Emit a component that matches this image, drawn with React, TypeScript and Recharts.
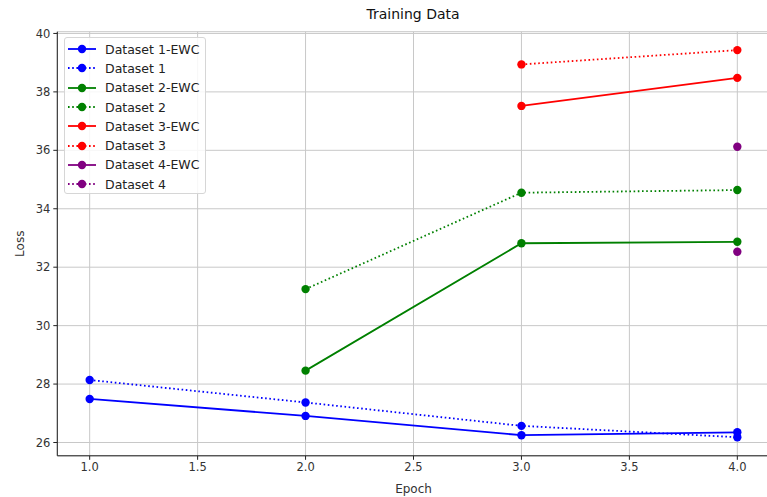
import React from 'react';
import { LineChart, Line, XAxis, YAxis, CartesianGrid } from 'recharts';

const xTicks = [1.0, 1.5, 2.0, 2.5, 3.0, 3.5, 4.0];
const yTicks = [26, 28, 30, 32, 34, 36, 38, 40];

const ds1EwcEpochs = [1, 2, 3, 4];
const ds1EwcLoss = [27.49, 26.91, 26.25, 26.35];
const ds1Epochs = [1, 2, 3, 4];
const ds1Loss = [28.14, 27.37, 26.57, 26.18];
const ds2EwcEpochs = [2, 3, 4];
const ds2EwcLoss = [28.46, 32.82, 32.87];
const ds2Epochs = [2, 3, 4];
const ds2Loss = [31.25, 34.55, 34.64];
const ds3EwcEpochs = [3, 4];
const ds3EwcLoss = [37.52, 38.48];
const ds3Epochs = [3, 4];
const ds3Loss = [38.94, 39.43];
const ds4EwcEpochs = [4];
const ds4EwcLoss = [32.53];
const ds4Epochs = [4];
const ds4Loss = [36.12];

const toPts = (xs: number[], ys: number[]) => xs.map((x, i) => ({ x, y: ys[i] }));

const series = [
  { name: 'Dataset 1-EWC', color: '#0000ff', dotted: false, data: toPts(ds1EwcEpochs, ds1EwcLoss) },
  { name: 'Dataset 1', color: '#0000ff', dotted: true, data: toPts(ds1Epochs, ds1Loss) },
  { name: 'Dataset 2-EWC', color: '#008000', dotted: false, data: toPts(ds2EwcEpochs, ds2EwcLoss) },
  { name: 'Dataset 2', color: '#008000', dotted: true, data: toPts(ds2Epochs, ds2Loss) },
  { name: 'Dataset 3-EWC', color: '#ff0000', dotted: false, data: toPts(ds3EwcEpochs, ds3EwcLoss) },
  { name: 'Dataset 3', color: '#ff0000', dotted: true, data: toPts(ds3Epochs, ds3Loss) },
  { name: 'Dataset 4-EWC', color: '#800080', dotted: false, data: toPts(ds4EwcEpochs, ds4EwcLoss) },
  { name: 'Dataset 4', color: '#800080', dotted: true, data: toPts(ds4Epochs, ds4Loss) },
];

const FONT = '"DejaVu Sans", sans-serif';
const DOT_DASH = '1.6 2.6';

const LegendBox = () => (
  <div
    style={{
      position: 'absolute',
      left: 64,
      top: 37,
      boxSizing: 'border-box',
      width: 142,
      height: 157,
      background: 'rgba(255,255,255,0.85)',
      border: '1px solid #d6d6d6',
      borderRadius: 3,
      padding: '1.5px 0 0 2px',
      fontFamily: FONT,
      fontSize: 12.5,
      color: '#222',
    }}
  >
    {series.map((s) => (
      <div key={s.name} style={{ display: 'flex', alignItems: 'center', height: 19.3 }}>
        <svg width={30} height={12} style={{ marginRight: 8, flex: 'none' }}>
          <line
            x1={1}
            x2={29}
            y1={6}
            y2={6}
            stroke={s.color}
            strokeWidth={1.8}
            strokeDasharray={s.dotted ? DOT_DASH : undefined}
          />
          <circle cx={15} cy={6} r={4.2} fill={s.color} />
        </svg>
        <span style={{ whiteSpace: 'nowrap' }}>{s.name}</span>
      </div>
    ))}
  </div>
);

export default function App() {
  return (
    <div
      style={{
        position: 'absolute',
        left: 0,
        top: 0,
        width: 767,
        height: 497,
        overflow: 'hidden',
        background: '#fff',
      }}
    >
      <div
        style={{
          position: 'absolute',
          left: 0,
          width: 826,
          top: 6,
          textAlign: 'center',
          fontFamily: FONT,
          fontSize: 14,
          color: '#111',
        }}
      >
        Training Data
      </div>
      <LineChart
        width={780}
        height={497}
        margin={{ top: 31.7, right: 10.3, left: 0, bottom: 0 }}
        style={{ position: 'absolute', left: 0, top: 0 }}
      >
        <CartesianGrid stroke="#c8c8c8" strokeWidth={1} />
        <XAxis
          dataKey="x"
          type="number"
          domain={[0.85, 4.15]}
          ticks={xTicks}
          allowDataOverflow
          tickFormatter={(v: number) => v.toFixed(1)}
          height={41.2}
          tickSize={4}
          tickMargin={3}
          stroke="#222"
          tick={{ fill: '#333', fontFamily: FONT, fontSize: 11.5 }}
          label={{ value: 'Epoch', position: 'insideBottom', offset: 4, fill: '#333', fontFamily: FONT, fontSize: 12 }}
        />
        <XAxis
          xAxisId="top"
          orientation="top"
          dataKey="x"
          type="number"
          domain={[0.85, 4.15]}
          height={0}
          tick={false}
          tickLine={false}
          stroke="#222"
        />
        <YAxis
          type="number"
          domain={[25.545, 40.06]}
          ticks={yTicks}
          allowDataOverflow
          width={57.3}
          tickSize={4}
          tickMargin={3}
          stroke="#222"
          tick={{ fill: '#333', fontFamily: FONT, fontSize: 11.5 }}
          label={{ value: 'Loss', angle: -90, position: 'insideLeft', offset: 20, fill: '#333', fontFamily: FONT, fontSize: 12, style: { textAnchor: 'middle' } }}
        />
        {series.map((s) => (
          <Line
            key={s.name}
            name={s.name}
            data={s.data}
            dataKey="y"
            stroke={s.color}
            strokeWidth={1.8}
            strokeDasharray={s.dotted ? DOT_DASH : undefined}
            dot={{ r: 4.2, fill: s.color, stroke: 'none' }}
            activeDot={false}
            isAnimationActive={false}
          />
        ))}
      </LineChart>
      <LegendBox />
    </div>
  );
}
